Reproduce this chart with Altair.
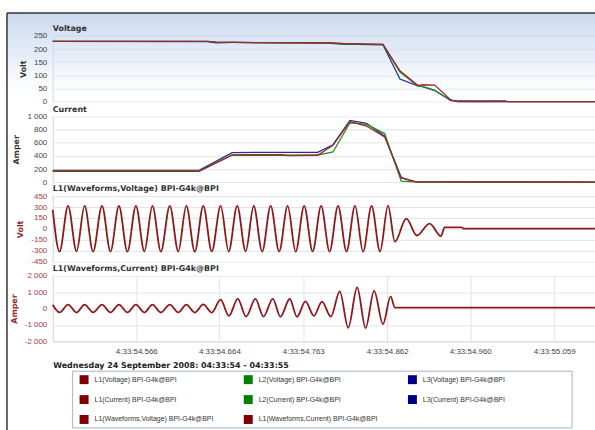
import altair as alt
import pandas as pd

# ---- x positions are milliseconds after 4:33:54.000 ----
X_TICKS = [566, 664, 763, 862, 960, 1059]
X_DOMAIN = [467.4, 1107.1]
DATE_TITLE = "Wednesday 24 September 2008: 04:33:54 - 04:33:55"

S_L1V = "L1(Voltage) BPI-G4k@BPI"
S_L2V = "L2(Voltage) BPI-G4k@BPI"
S_L3V = "L3(Voltage) BPI-G4k@BPI"
S_L1C = "L1(Current) BPI-G4k@BPI"
S_L2C = "L2(Current) BPI-G4k@BPI"
S_L3C = "L3(Current) BPI-G4k@BPI"
S_WV = "L1(Waveforms,Voltage) BPI-G4k@BPI"
S_WC = "L1(Waveforms,Current) BPI-G4k@BPI"
# legend order (filled column by column: 3 rows)
LEGEND_SERIES = [S_L1V, S_L1C, S_WV, S_L2V, S_L2C, S_WC, S_L3V, S_L3C]
LEGEND_COLORS = ["#800000", "#800000", "#800000", "#008000", "#008000", "#800000", "#000080", "#000080"]
LINE_SERIES = [S_L1V, S_L2V, S_L3V, S_L1C, S_L2C, S_L3C, S_WV, S_WC]
LINE_COLORS = ["#9a2b2b", "#1f8c1f", "#2b2b9a", "#9a2b2b", "#1f8c1f", "#2b2b9a", "#8b1a1a", "#8b1a1a"]

# RMS voltage
RMS_V_T = [467.4, 650, 660, 680, 790, 810, 857, 877, 898, 904, 918, 937, 945, 1001, 1004, 1107]
RMS_V_L1 = [229, 229, 226, 225, 224, 221, 218, 117, 62, 64, 63, 6, 0, 0, 0, 0]
RMS_V_L2 = [229, 229, 226, 225, 224, 220, 218, 112, 60, 57, 42, 5, 0, 0, 0, 0]
RMS_V_L3 = [229, 228, 224, 225, 223, 219, 216, 86, 60, 57, 43, 4, 3, 3, 0, 0]

# RMS current
RMS_I_T = [467.4, 640, 679, 737, 745, 780, 798, 818, 837.5, 859, 878.5, 896, 1107]
RMS_I_L1 = [165, 165, 415, 420, 405, 410, 560, 925, 855, 690, 65, 5, 0]
RMS_I_L2 = [170, 170, 410, 410, 410, 412, 460, 905, 880, 740, 15, 5, 0]
RMS_I_L3 = [180, 180, 450, 455, 455, 455, 570, 940, 895, 700, 70, 5, 0]

# Voltage waveform (peaks / troughs as read)
WV_T = [467.4, 475.5, 485.5, 495.5, 505, 515, 525.5, 535.5, 545.5, 555.5,
        565.5, 575.5, 585, 595, 605.5, 615.5, 625, 635, 645, 655,
        665.5, 675, 685, 695, 704.5, 714.5, 724.5, 734.5, 744.5, 754,
        764, 774, 784, 794, 804, 814, 824, 833.5, 843.5, 853.5,
        863, 871, 884.5, 897, 912, 925.5, 929.5, 950, 952, 1107]
WV_V = [262, -310, 316, -308, 315, -310, 317, -309, 314, -311,
        316, -308, 315, -310, 316, -309, 315, -311, 317, -309,
        315, -310, 316, -308, 314, -310, 316, -309, 315, -311,
        316, -309, 315, -310, 317, -309, 315, -311, 316, -310,
        318, -175, 140, -90, 72, -100, 22, 20, 5, 5]

# Current waveform (peaks / troughs as read)
WC_T = [467.4, 475.5, 485.5, 495.5, 505, 515, 525.5, 535.5, 545.5, 555.5,
        565.5, 575.5, 585, 595, 605.5, 615.5, 625, 635, 645, 655,
        665.4, 675.2, 685.7, 695.5, 706.5, 716, 727, 736, 747, 755.5,
        765.5, 775.5, 785, 795.5, 806, 816, 826.5, 836.5, 846.5, 857,
        866, 871, 880, 1107]
WC_V = [230, -240, 238, -244, 236, -240, 240, -243, 236, -240,
        238, -244, 240, -242, 236, -240, 240, -244, 250, -245,
        540, -450, 590, -490, 590, -490, 590, -500, 580, -500,
        430, -450, 420, -490, 1050, -1170, 1280, -1190, 1080, -950,
        740, 60, 50, 50]

V_TICKS = [0, 50, 100, 150, 200, 250]
I_TICKS = [0, 200, 400, 600, 800, 1000]
WV_TICKS = [-450, -300, -150, 0, 150, 300, 450]
WC_TICKS = [-2000, -1000, 0, 1000, 2000]


def long_df(t, named):
    rows = []
    for name, vals in named:
        for a, b in zip(t, vals):
            rows.append({"ms": a, "val": b, "series": name})
    return pd.DataFrame(rows)


df_v = long_df(RMS_V_T, [(S_L3V, RMS_V_L3), (S_L2V, RMS_V_L2), (S_L1V, RMS_V_L1)])
df_i = long_df(RMS_I_T, [(S_L3C, RMS_I_L3), (S_L2C, RMS_I_L2), (S_L1C, RMS_I_L1)])
df_wv = long_df(WV_T, [(S_WV, WV_V)])
df_wc = long_df(WC_T, [(S_WC, WC_V)])
df_leg = pd.DataFrame({"series": LEGEND_SERIES})
one = pd.DataFrame({"k": [0]})

LABEL_FONT = "Liberation Sans"
TITLE_FONT = "DejaVu Sans"
GRID = "#e3e3e3"

X_ENC = alt.X(
    "ms:Q",
    scale=alt.Scale(domain=X_DOMAIN, nice=False, zero=False),
    axis=alt.Axis(
        values=X_TICKS,
        labelExpr="'4:33:' + format(54 + datum.value / 1000, '.3f')",
        grid=True, gridColor=GRID, ticks=False, domain=False,
        labelFont=LABEL_FONT, labelFontSize=8, labelColor="#444", labelPadding=6,
        title=DATE_TITLE, titleFont=TITLE_FONT, titleFontSize=8, titleFontWeight="bold",
        titleColor="#222", titleAnchor="start", titleAlign="left", titleX=0, titleY=24,
        titleBaseline="middle",
    ),
)

NUM_EXPR = "replace(replace(format(datum.value, ','), ',', ' '), '\u2212', '-')"


def y_enc(domain, rng, values, title, lab_color, title_color, grid=True, labels=True, z=0):
    kw = dict(
        orient="left", values=values, grid=grid, ticks=False, domain=False, zindex=z,
        labels=labels,
    )
    if grid:
        kw["gridColor"] = GRID
    if labels:
        kw.update(labelExpr=NUM_EXPR, labelFont=LABEL_FONT, labelFontSize=8,
                  labelColor=lab_color, labelPadding=6,
                  title=title, titleFont=TITLE_FONT, titleFontSize=8, titleFontWeight="bold",
                  titleColor=title_color, titlePadding=6)
    else:
        kw["title"] = None
    return alt.Y(
        "val:Q",
        scale=alt.Scale(domain=domain, range=rng, nice=False, zero=False),
        axis=alt.Axis(**kw),
    )


# line colour scale has its own domain (different from the legend scale), so the
# disabled line legend is not merged with the visible legend
COLOR_NOLEG = alt.Color("series:N", scale=alt.Scale(domain=LINE_SERIES, range=LINE_COLORS), legend=None)

# decorations
bg = alt.Chart(one).mark_rect(
    color=alt.Gradient(
        gradient="linear",
        stops=[
            alt.GradientStop(color="rgba(190,207,234,0.8)", offset=0),
            alt.GradientStop(color="rgba(208,222,242,0.55)", offset=0.45),
            alt.GradientStop(color="rgba(255,255,255,0)", offset=1),
        ],
        x1=0, x2=0, y1=0, y2=1,
    )
).encode(x=alt.value(-46), x2=alt.value(560), y=alt.value(-23), y2=alt.value(72))

frame_top = alt.Chart(one).mark_rule(color="#333", strokeWidth=1.5).encode(
    x=alt.value(-46), x2=alt.value(560), y=alt.value(-23))
frame_left = alt.Chart(one).mark_rule(color="#333", strokeWidth=1.5).encode(
    x=alt.value(-46), y=alt.value(-23), y2=alt.value(400))

strips = [
    alt.Chart(one).mark_rect(color="white").encode(
        x=alt.value(-0.5), x2=alt.value(546), y=alt.value(a), y2=alt.value(b))
    for a, b in [(67, 81), (148, 161), (228, 241)]
]

# voltage panel: grid-only axis under the gradient, label axis above it
line_v = alt.Chart(df_v).mark_line(strokeWidth=1.3).encode(
    x=X_ENC, y=y_enc([0, 250], [66, 0], V_TICKS, None, None, None, grid=True, labels=False, z=0),
    color=COLOR_NOLEG, detail="series:N")
line_v_labels = alt.Chart(df_v).mark_line(opacity=0).encode(
    x=X_ENC, y=y_enc([0, 250], [66, 0], V_TICKS, "Volt", "#444", "#333", grid=False, labels=True, z=1),
    detail="series:N")
line_i = alt.Chart(df_i).mark_line(strokeWidth=1.3).encode(
    x=X_ENC, y=y_enc([0, 1000], [147, 81], I_TICKS, "Amper", "#444", "#333"),
    color=COLOR_NOLEG, detail="series:N")
line_wv = alt.Chart(df_wv).mark_line(strokeWidth=1.8, interpolate="monotone").encode(
    x=X_ENC, y=y_enc([-450, 450], [227, 161], WV_TICKS, "Volt", "#a33a3a", "#8b2a2a"),
    color=COLOR_NOLEG)
line_wc = alt.Chart(df_wc).mark_line(strokeWidth=1.8, interpolate="monotone").encode(
    x=X_ENC, y=y_enc([-2000, 2000], [307, 241], WC_TICKS, "Amper", "#a33a3a", "#8b2a2a"),
    color=COLOR_NOLEG)

titles = [
    alt.Chart(one).mark_text(text=txt, align="left", baseline="middle", font=TITLE_FONT,
                             fontSize=8, fontWeight="bold", color="#333").encode(
        x=alt.value(0), y=alt.value(yy))
    for txt, yy in [("Voltage", -7), ("Current", 74), (S_WV, 154), (S_WC, 234)]
]

legend_box = alt.Chart(one).mark_rect(fill="white", stroke="#a9b3c3", strokeWidth=1).encode(
    x=alt.value(20), x2=alt.value(522), y=alt.value(337), y2=alt.value(394))

legend_layer = alt.Chart(df_leg).mark_square(opacity=0).encode(
    fill=alt.Fill(
        "series:N", scale=alt.Scale(domain=LEGEND_SERIES, range=LEGEND_COLORS),
        legend=alt.Legend(
            orient="none", legendX=27, legendY=341, columns=3, title=None,
            symbolType="square", symbolSize=81, symbolStrokeWidth=0, symbolOpacity=1,
            labelFont=LABEL_FONT, labelFontSize=7, labelColor="#333", labelOffset=6,
            rowPadding=11, columnPadding=30, gridAlign="all", padding=0, labelLimit=300,
        ),
    )
)

chart = alt.layer(
    bg, *strips, frame_top, frame_left, line_v, line_v_labels, line_i, line_wv, line_wc,
    *titles, legend_box, legend_layer,
).resolve_scale(y="independent").resolve_axis(y="independent").properties(
    width=545, height=307,
    padding={"left": 53, "top": 35, "right": 0, "bottom": 88},
    autosize=alt.AutoSizeParams(type="none"),
    background="white",
).configure_view(stroke="#d2d2d2", strokeWidth=1)

chart.save("out.html", embed_options={"renderer": "svg", "actions": False})
